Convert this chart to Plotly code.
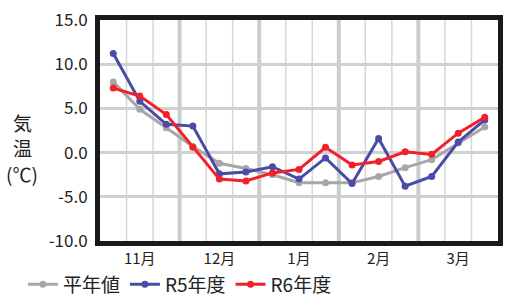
import plotly.graph_objects as go

months = ["11月", "12月", "1月", "2月", "3月"]
periods_per_month = 3
y_ticks = [-10, -5, 0, 5, 10, 15]
y_tick_labels = ["-10.0", "-5.0", "0.0", "5.0", "10.0", "15.0"]

normal = [8.0, 4.9, 2.8, 0.7, -1.2, -1.8, -2.5, -3.4, -3.4, -3.4, -2.7, -1.7, -0.8, 1.1, 2.9]
r5 = [11.2, 5.8, 3.2, 3.0, -2.4, -2.2, -1.6, -3.0, -0.6, -3.5, 1.6, -3.8, -2.7, 1.2, 3.7]
r6 = [7.3, 6.4, 4.3, 0.6, -3.0, -3.2, -2.3, -1.9, 0.6, -1.4, -1.0, 0.1, -0.2, 2.2, 4.0]

series = [
    ("平年値", normal, "#A7A7A7"),
    ("R5年度", r5, "#4A4BA6"),
    ("R6年度", r6, "#F2202A"),
]

n = len(normal)
xs = [i + 0.5 for i in range(n)]
font_fam = "Noto Sans CJK JP"
txt = "#222222"

fig = go.Figure()
for name, vals, col in series:
    fig.add_trace(go.Scatter(
        x=xs, y=vals, name=name, mode="lines+markers",
        line=dict(color=col, width=3),
        marker=dict(color=col, size=7),
    ))

shapes = []
for k in range(1, n):
    thick = (k % periods_per_month == 0)
    shapes.append(dict(
        type="line", xref="x", yref="paper", x0=k, x1=k, y0=0, y1=1,
        line=dict(color="#CCCCCC" if thick else "#D6D6D6", width=4 if thick else 1.5),
        layer="below",
    ))

month_pos = [m * periods_per_month + periods_per_month / 2 for m in range(len(months))]

fig.update_layout(
    width=509, height=300,
    margin=dict(l=100, r=11, t=20, b=59, autoexpand=False),
    paper_bgcolor="white", plot_bgcolor="white",
    font=dict(family=font_fam, color=txt),
    shapes=shapes,
    showlegend=True,
    legend=dict(orientation="h", x=0.045, xref="container", y=0.052, yref="container",
                yanchor="middle", xanchor="left",
                font=dict(size=19, family=font_fam, color=txt),
                itemwidth=30, tracegroupgap=0, bgcolor="rgba(0,0,0,0)",
                borderwidth=0),
    xaxis=dict(
        range=[0, n], tickvals=month_pos, ticktext=months, showgrid=False,
        zeroline=False, ticks="", tickfont=dict(size=15, family=font_fam, color=txt),
        showline=True, linecolor="#1A1A1A", linewidth=5, mirror=True,
        automargin=False, ticklabelstandoff=0,
    ),
    yaxis=dict(
        range=[-10, 15], tickvals=y_ticks, ticktext=y_tick_labels,
        showgrid=True, gridcolor="#D0D0D0", gridwidth=2.5,
        zeroline=False, ticks="", tickfont=dict(size=17, family=font_fam, color=txt),
        showline=True, linecolor="#1A1A1A", linewidth=5, mirror=True,
        ticklabelstandoff=4, automargin=False,
    ),
)

fig.add_annotation(text="気<br>温", xref="paper", yref="paper", x=-0.195, y=0.48,
                   showarrow=False, font=dict(size=19, family=font_fam, color=txt),
                   xanchor="center", yanchor="middle")
fig.add_annotation(text="(℃)", xref="paper", yref="paper", x=-0.195, y=0.305,
                   showarrow=False, font=dict(size=19, family=font_fam, color=txt),
                   xanchor="center", yanchor="middle")

fig.write_html("out.html")
